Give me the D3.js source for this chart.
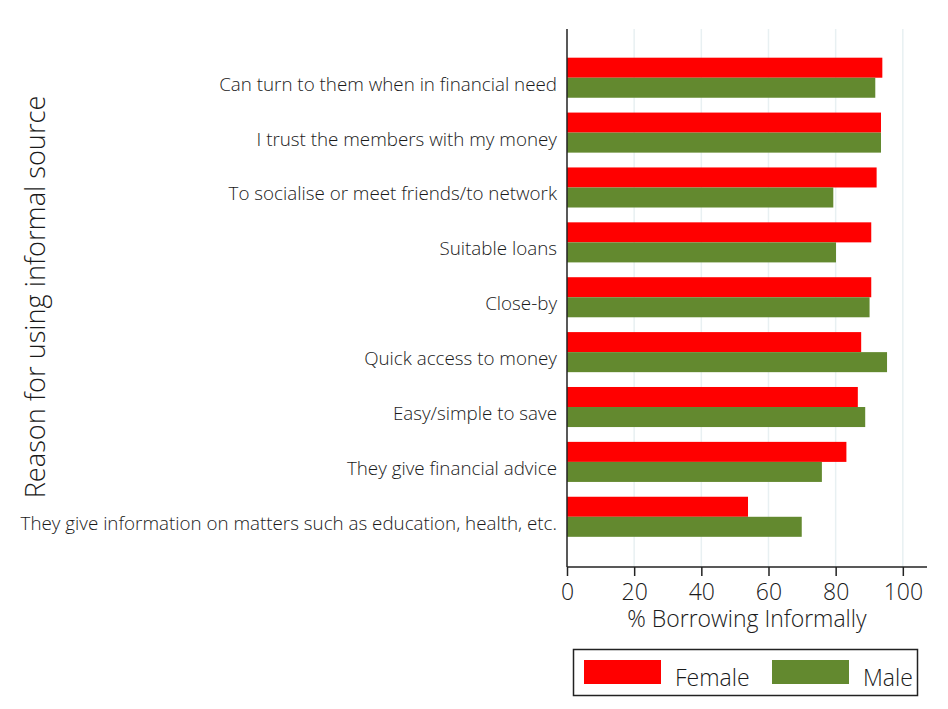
<!DOCTYPE html>
<html>
<head>
<meta charset="utf-8">
<script src="https://cdn.jsdelivr.net/npm/d3@7"></script>
<style>
  html, body { margin: 0; padding: 0; background: #fff; }
  svg { display: block; font-family: "Open Sans", sans-serif; font-weight: 300; }
</style>
</head>
<body>
<svg id="chart" width="948" height="709"></svg>
<script>
// Reasons for using an informal source, top to bottom
const categories = [
  "Can turn to them when in financial need",
  "I trust the members with my money",
  "To socialise or meet friends/to network",
  "Suitable loans",
  "Close-by",
  "Quick access to money",
  "Easy/simple to save",
  "They give financial advice",
  "They give information on matters such as education, health, etc."
];
// % borrowing informally, by sex
const femaleValues = [93.9, 93.5, 92.2, 90.6, 90.6, 87.6, 86.6, 83.2, 53.9];
const maleValues   = [91.8, 93.5, 79.3, 80.1, 90.1, 95.3, 88.8, 75.9, 69.9];
const xTicks = [0, 20, 40, 60, 80, 100];
const seriesNames = ["Female", "Male"];
const seriesColors = ["#ff0000", "#63892f"];

const svg = d3.select("#chart");
const textColor = "#1a1a1a";

const plotLeft = 567, plotRight = 927, plotTop = 29, plotBottom = 567;

const x = d3.scaleLinear().domain([0, 107.2]).range([plotLeft, plotRight]);
const y = d3.scaleBand().domain(categories).range([plotTop - 1.5, plotBottom])
  .paddingInner(0.27).paddingOuter(0.55);
const ySeries = d3.scaleBand().domain(seriesNames).range([0, y.bandwidth()]);

// vertical grid lines
svg.append("g").selectAll("line").data(xTicks.filter(d => d > 0)).join("line")
  .attr("x1", d => x(d)).attr("x2", d => x(d))
  .attr("y1", plotTop).attr("y2", plotBottom)
  .attr("stroke", "#e8f0f2").attr("stroke-width", 1.5);

// bars
const rows = categories.map((c, i) => ({ c, vals: [femaleValues[i], maleValues[i]] }));
const groups = svg.append("g").selectAll("g").data(rows).join("g")
  .attr("transform", d => `translate(0,${y(d.c)})`);
groups.selectAll("rect").data(d => d.vals.map((v, j) => ({ v, s: seriesNames[j], col: seriesColors[j] })))
  .join("rect")
  .attr("x", x(0))
  .attr("y", d => ySeries(d.s))
  .attr("width", d => x(d.v) - x(0))
  .attr("height", ySeries.bandwidth())
  .attr("fill", d => d.col);

// category labels
svg.append("g").selectAll("text").data(categories).join("text")
  .attr("x", plotLeft - 10)
  .attr("y", d => y(d) + y.bandwidth() / 2 + 13)
  .attr("text-anchor", "end")
  .attr("font-size", 18.8)
  .attr("fill", textColor)
  .text(d => d);

// x axis
const xAxis = svg.append("g").attr("transform", `translate(0,${plotBottom})`)
  .call(d3.axisBottom(x).tickValues(xTicks).tickSize(9).tickPadding(8).tickFormat(d3.format("d")));
xAxis.select(".domain").attr("stroke", "#222").attr("stroke-width", 1.5)
  .attr("d", `M${plotLeft},0H${plotRight}`);
xAxis.selectAll(".tick line").attr("stroke", "#222").attr("stroke-width", 1.5);
xAxis.selectAll(".tick text").attr("font-size", 23).attr("fill", textColor)
  .attr("font-family", "Open Sans, sans-serif").attr("font-weight", 300);

// y axis line
svg.append("line")
  .attr("x1", plotLeft).attr("x2", plotLeft).attr("y1", plotTop).attr("y2", plotBottom)
  .attr("stroke", "#222").attr("stroke-width", 1.5);

// axis titles
svg.append("text")
  .attr("x", (x(0) + x(100)) / 2 + 12).attr("y", 627)
  .attr("text-anchor", "middle").attr("font-size", 23).attr("fill", textColor)
  .text("% Borrowing Informally");

svg.append("text")
  .attr("transform", "translate(45,297) rotate(-90)")
  .attr("text-anchor", "middle").attr("font-size", 27.2).attr("fill", textColor)
  .text("Reason for using informal source");

// legend
const legend = svg.append("g");
legend.append("rect")
  .attr("x", 573.5).attr("y", 649.5).attr("width", 344).attr("height", 46)
  .attr("fill", "#fff").attr("stroke", "#222").attr("stroke-width", 1.5);
const legendX = [584, 772];
seriesNames.forEach((name, i) => {
  legend.append("rect")
    .attr("x", legendX[i]).attr("y", 660).attr("width", 77).attr("height", 24)
    .attr("fill", seriesColors[i]);
  legend.append("text")
    .attr("x", legendX[i] + 91).attr("y", 686)
    .attr("font-size", 23).attr("fill", textColor)
    .text(name);
});
</script>
</body>
</html>
